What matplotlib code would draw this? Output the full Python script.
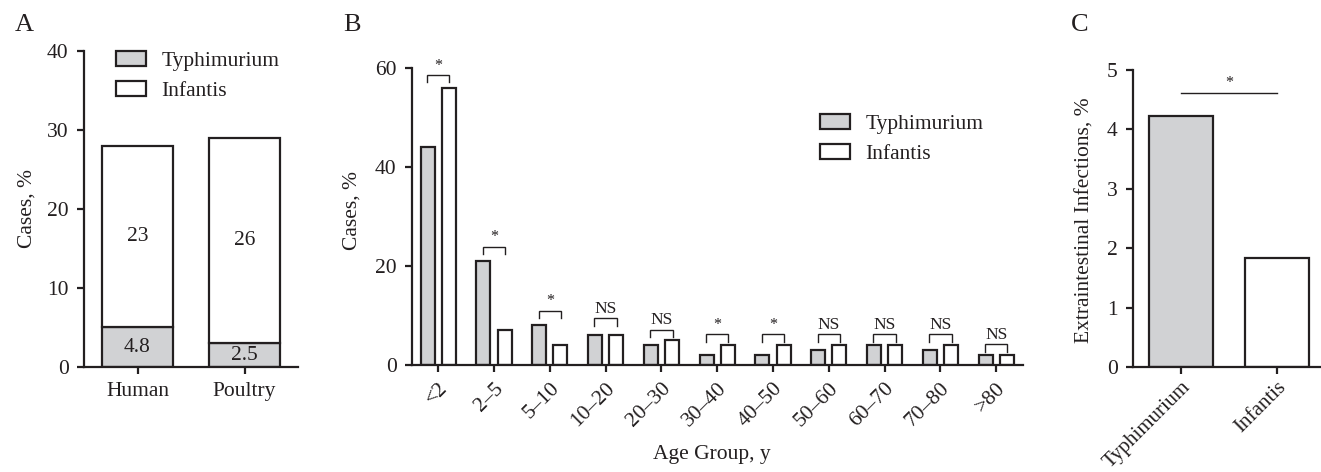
import matplotlib
matplotlib.use('Agg')
import matplotlib.pyplot as plt
import numpy as np

plt.rcParams['font.family'] = ['Liberation Serif', 'DejaVu Serif']
plt.rcParams['text.color'] = '#231f20'
plt.rcParams['axes.labelcolor'] = '#231f20'
plt.rcParams['xtick.color'] = '#231f20'
plt.rcParams['ytick.color'] = '#231f20'

GREY = '#d1d2d4'
INK = '#231f20'
fs = 15.5

# panel A: share of cases by source
sources = ['Human', 'Poultry']
a_typh = [5, 3]
a_inf = [23, 26]
a_typh_lbl = ['4.8', '2.5']
a_inf_lbl = ['23', '26']

# panel B: age distribution
age_groups = ['<2', '2–5', '5–10', '10–20', '20–30', '30–40', '40–50',
              '50–60', '60–70', '70–80', '>80']
b_typh = [44, 21, 8, 6, 4, 2, 2, 3, 4, 3, 2]
b_inf = [56, 7, 4, 6, 5, 4, 4, 4, 4, 4, 2]
b_sig = ['*', '*', '*', 'NS', 'NS', '*', '*', 'NS', 'NS', 'NS', 'NS']
b_bracket = [58.6, 23.9, 11.0, 9.4, 7.1, 6.2, 6.2, 6.2, 6.2, 6.2, 4.2]

# panel C: extraintestinal infections
serotypes = ['Typhimurium', 'Infantis']
c_vals = [4.23, 1.83]
c_sig_y = 4.61


def style(ax):
    for s in ['top', 'right']:
        ax.spines[s].set_visible(False)
    for s in ['left', 'bottom']:
        ax.spines[s].set_linewidth(1.6)
        ax.spines[s].set_color(INK)
    ax.tick_params(width=1.6, length=5, labelsize=fs, direction='out', pad=6)


fig = plt.figure(figsize=(13.21, 4.72), dpi=100)

# ---- A
axA = fig.add_axes([0.0636, 0.2225, 0.162, 0.6695])
xa = np.arange(len(sources))
axA.bar(xa, a_typh, 0.664, color=GREY, edgecolor=INK, linewidth=1.6, label='Typhimurium')
axA.bar(xa, a_inf, 0.664, bottom=a_typh, color='white', edgecolor=INK, linewidth=1.6, label='Infantis')
for i in range(len(sources)):
    axA.text(xa[i], a_typh[i] / 2, a_typh_lbl[i], ha='center', va='center', fontsize=fs)
    axA.text(xa[i], a_typh[i] + a_inf[i] / 2, a_inf_lbl[i], ha='center', va='center', fontsize=fs)
axA.set_xlim(-0.5, 1.5)
axA.set_ylim(0, 40)
axA.set_yticks([0, 10, 20, 30, 40])
axA.set_xticks(xa)
axA.set_xticklabels(sources)
style(axA)
axA.set_ylabel('Cases, %', fontsize=fs)
axA.yaxis.set_label_coords(-0.222, 0.5)
axA.legend(loc='upper left', bbox_to_anchor=(0.15, 1.0), frameon=False, fontsize=fs,
           handlelength=1.4, handleheight=0.7, handletextpad=0.7, labelspacing=0.45,
           borderpad=0, borderaxespad=0)

# ---- B
axB = fig.add_axes([0.3119, 0.2267, 0.4625, 0.629])
xb = np.arange(len(age_groups))
off = 0.19
axB.bar(xb - off, b_typh, 0.25, color=GREY, edgecolor=INK, linewidth=1.6, label='Typhimurium')
axB.bar(xb + off, b_inf, 0.25, color='white', edgecolor=INK, linewidth=1.6, label='Infantis')
for i in range(len(age_groups)):
    y = b_bracket[i]
    axB.plot([xb[i] - 0.2, xb[i] - 0.2, xb[i] + 0.2, xb[i] + 0.2], [y - 1.5, y, y, y - 1.5],
             color=INK, lw=1.0, solid_joinstyle='miter')
    axB.text(xb[i], y + 0.3, b_sig[i], ha='center', va='bottom',
             fontsize=12.5 if b_sig[i] == 'NS' else 11.5)
axB.set_xlim(-0.47, 10.48)
axB.set_ylim(0, 60)
axB.set_yticks([0, 20, 40, 60])
axB.set_xticks(xb)
axB.set_xticklabels(age_groups, rotation=45, ha='right', rotation_mode='anchor')
style(axB)
axB.tick_params(axis='x', pad=5)
axB.set_ylabel('Cases, %', fontsize=fs)
axB.yaxis.set_label_coords(-0.083, 0.52)
axB.set_xlabel('Age Group, y', fontsize=fs)
axB.xaxis.set_label_coords(0.49, -0.27)
axB.legend(loc='upper left', bbox_to_anchor=(0.668, 0.845), frameon=False, fontsize=fs,
           handlelength=1.4, handleheight=0.7, handletextpad=0.7, labelspacing=0.45,
           borderpad=0, borderaxespad=0)

# ---- C
axC = fig.add_axes([0.8577, 0.2225, 0.1416, 0.629])
xc = np.arange(len(serotypes))
axC.bar(xc, c_vals, 0.67, color=[GREY, 'white'], edgecolor=INK, linewidth=1.6)
axC.plot([0, 1], [c_sig_y, c_sig_y], color=INK, lw=1.0)
axC.text(0.5, c_sig_y + 0.04, '*', ha='center', va='bottom', fontsize=11.5)
axC.set_xlim(-0.5, 1.45)
axC.set_ylim(0, 5)
axC.set_yticks([0, 1, 2, 3, 4, 5])
axC.set_xticks(xc)
axC.set_xticklabels(serotypes, rotation=45, ha='right', rotation_mode='anchor')
style(axC)
axC.tick_params(axis='x', pad=3, labelsize=15)
axC.set_ylabel('Extraintestinal Infections, %', fontsize=fs)
axC.yaxis.set_label_coords(-0.205, 0.495)

fig.text(0.011, 0.947, 'A', fontsize=19, va='center')
fig.text(0.260, 0.947, 'B', fontsize=19, va='center')
fig.text(0.811, 0.947, 'C', fontsize=19, va='center')

fig.savefig('out.png', dpi=100)
